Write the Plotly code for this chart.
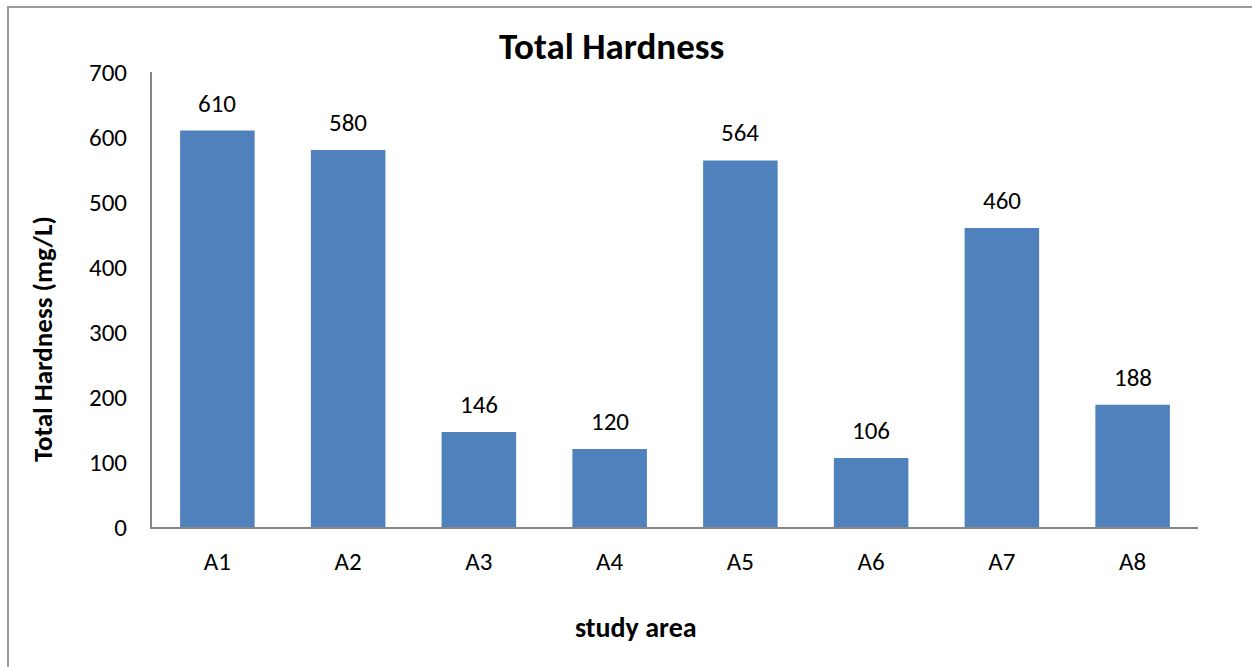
import plotly.graph_objects as go

# Total hardness per study area (mg/L)
areas = ["A1", "A2", "A3", "A4", "A5", "A6", "A7", "A8"]
hardness = [610, 580, 146, 120, 564, 106, 460, 188]
y_ticks = [0, 100, 200, 300, 400, 500, 600, 700]

FONT = "Carlito, Calibri, Lato, sans-serif"
BAR_COLOR = "#4F81BD"
AXIS_COLOR = "#868686"

W, H = 1252, 667
L, R, T, B = 152, 54, 72, 140
pw, ph = W - L - R, H - T - B


def px_x(x):
    return (x - L) / pw


def px_y(y):
    return (H - B - y) / ph


fig = go.Figure(
    go.Bar(
        x=areas,
        y=hardness,
        marker=dict(color=BAR_COLOR, line=dict(width=0)),
        hoverinfo="x+y",
    )
)

# value labels above bars
for a, v in zip(areas, hardness):
    fig.add_annotation(
        x=a, y=v, text=str(v), showarrow=False,
        yanchor="bottom", yshift=10,
        font=dict(family=FONT, size=25, color="#000"),
    )

# chart title and axis titles
fig.add_annotation(
    x=px_x(611), y=px_y(47), xref="paper", yref="paper",
    text="<b>Total Hardness</b>", showarrow=False,
    xanchor="center", yanchor="middle",
    font=dict(family=FONT, size=37, color="#000"),
)
fig.add_annotation(
    x=px_x(636), y=px_y(627), xref="paper", yref="paper",
    text="<b>study area</b>", showarrow=False,
    xanchor="center", yanchor="middle",
    font=dict(family=FONT, size=28, color="#000"),
)
fig.add_annotation(
    x=px_x(42), y=px_y(339), xref="paper", yref="paper",
    text="<b>Total Hardness (mg/L)</b>", showarrow=False, textangle=-90,
    xanchor="center", yanchor="middle",
    font=dict(family=FONT, size=27, color="#000"),
)

# outer chart frame
fig.add_shape(
    type="rect", xref="paper", yref="paper",
    x0=px_x(8), x1=px_x(1265), y0=px_y(690), y1=px_y(7),
    line=dict(color="#9a9a9a", width=2), fillcolor="rgba(0,0,0,0)",
    layer="below",
)

fig.update_layout(
    width=W, height=H,
    margin=dict(l=L, r=R, t=T, b=B, autoexpand=False),
    paper_bgcolor="white", plot_bgcolor="white",
    bargap=0.43,
    showlegend=False,
    font=dict(family=FONT, size=25, color="#000"),
)
fig.update_xaxes(
    showline=True, linecolor=AXIS_COLOR, linewidth=2,
    ticks="", ticklabelstandoff=11,
    tickfont=dict(family=FONT, size=25, color="#000"),
    showgrid=False, zeroline=False,
)
fig.update_yaxes(
    range=[0, 700], tickvals=y_ticks,
    showline=True, linecolor=AXIS_COLOR, linewidth=2,
    ticks="", ticklabelstandoff=18,
    tickfont=dict(family=FONT, size=25, color="#000"),
    showgrid=False, zeroline=False,
)

fig.write_html("out.html")
